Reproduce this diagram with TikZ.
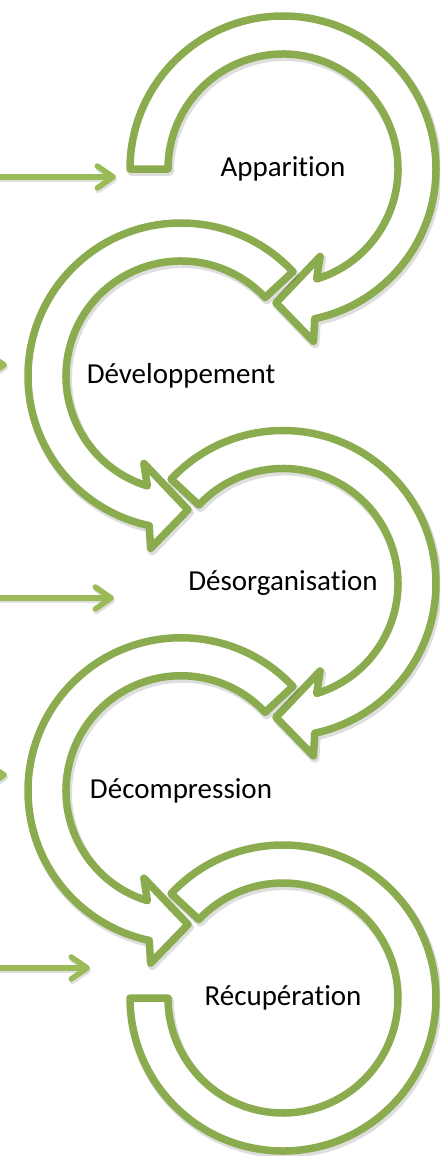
\documentclass[tikz,border=0pt]{standalone}
\usepackage{fontspec}
\setmainfont{Carlito}[Ligatures={NoCommon}]
\usetikzlibrary{arrows.meta}
\definecolor{ringgreen}{HTML}{8BAB4F}
\definecolor{sidegreen}{HTML}{9BBB59}
\begin{document}
\begin{tikzpicture}[x=1pt,y=1pt,
  ringshape/.style={draw=ringgreen, line width=7.5pt, fill=white, line join=round,
    preaction={draw=black, draw opacity=0.13, line width=9pt, line join=round,
      transform canvas={shift={(1.5pt,-2.5pt)}}}},
  steplabel/.style={font=\fontsize{29}{34}\selectfont, text=black, inner sep=0pt},
  sidearrow/.style={draw=sidegreen, line width=5.5pt, line cap=round,
    preaction={draw=black, draw opacity=0.12, line width=5.5pt,
      transform canvas={shift={(1pt,-2.5pt)}}},
    -{Straight Barb[length=16pt,width=22pt,line cap=round,line join=round]}}]
\useasboundingbox (0,0) rectangle (440,-1156);
\clip (0,0) rectangle (440,-1156);
% centres
\coordinate (c1) at (283,-169);
\coordinate (c2) at (181,-376);
\coordinate (c3) at (283,-583.5);
\coordinate (c4) at (181,-790.75);
\coordinate (c5) at (283,-998);
% rings
\draw[ringshape, shift={(c1)}] (180:153) arc[start angle=180, end angle=-78, radius=153]
  -- (-80:175) -- (-93:134) -- (-67:95) -- (-73:115)
  arc[start angle=-73, end angle=180, radius=115] -- cycle;
\draw[ringshape, shift={(c2)}] (43:153) arc[start angle=43, end angle=258, radius=153]
  -- (260:175) -- (273:134) -- (247:95) -- (253:115)
  arc[start angle=253, end angle=43, radius=115] -- cycle;
\draw[ringshape, shift={(c3)}] (137:153) arc[start angle=137, end angle=-78, radius=153]
  -- (-80:175) -- (-93:134) -- (-67:95) -- (-73:115)
  arc[start angle=-73, end angle=137, radius=115] -- cycle;
\draw[ringshape, shift={(c4)}] (43:153) arc[start angle=43, end angle=258, radius=153]
  -- (260:175) -- (273:134) -- (247:95) -- (253:115)
  arc[start angle=253, end angle=43, radius=115] -- cycle;
\draw[ringshape, shift={(c5)}] (137:153) arc[start angle=137, end angle=-180, radius=153]
  -- (-180:115) arc[start angle=-180, end angle=137, radius=115] -- cycle;
% labels
\node[steplabel] (t1) at (c1) {Apparition};
\node[steplabel] (t2) at (c2) {Développement};
\node[steplabel] (t3) at (c3) {Désorganisation};
\node[steplabel] (t4) at (c4) {Décompression};
\node[steplabel] (t5) at (c5) {Récupération};
% side arrows
\coordinate (a1s) at (-5,-177);  \coordinate (a1e) at (116,-177);
\coordinate (a2s) at (-120,-365); \coordinate (a2e) at (7,-365);
\coordinate (a3s) at (-5,-598);  \coordinate (a3e) at (114,-598);
\coordinate (a4s) at (-120,-775); \coordinate (a4e) at (7,-775);
\coordinate (a5s) at (-5,-968);  \coordinate (a5e) at (90,-968);
\draw[sidearrow] (a1s) -- (a1e);
\draw[sidearrow] (a2s) -- (a2e);
\draw[sidearrow] (a3s) -- (a3e);
\draw[sidearrow] (a4s) -- (a4e);
\draw[sidearrow] (a5s) -- (a5e);
\end{tikzpicture}
\end{document}
